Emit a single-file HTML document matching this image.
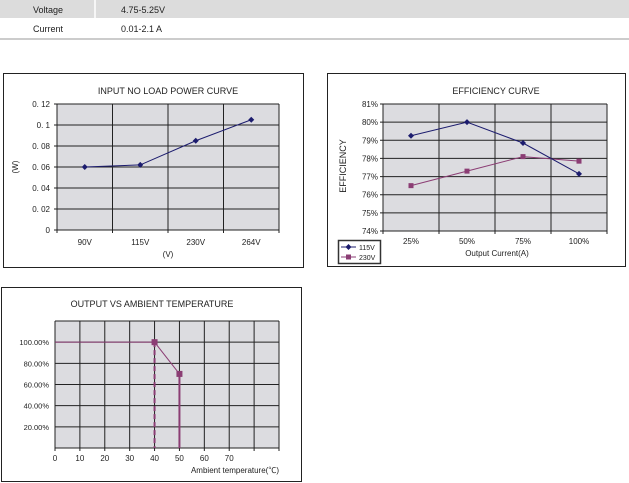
<!DOCTYPE html>
<html><head><meta charset="utf-8"><style>
body{margin:0;width:629px;height:483px;background:#fff;overflow:hidden;font-family:"Liberation Sans",sans-serif}
svg{position:absolute;left:0;top:0}
text{font-family:"Liberation Sans","Noto Sans CJK SC",sans-serif;fill:#222}
</style></head><body>
<svg width="629" height="483">
<g>
<rect x="0" y="0" width="629" height="18" fill="#dcdcdc"/>
<line x1="95" y1="0" x2="95" y2="18" stroke="#fff" stroke-width="1.5"/>
<text x="33" y="13" font-size="9">Voltage</text>
<text x="121" y="13" font-size="9">4.75-5.25V</text>
<text x="33" y="32" font-size="9">Current</text>
<text x="121" y="32" font-size="9">0.01-2.1 A</text>
<line x1="0" y1="39" x2="629" y2="39" stroke="#999" stroke-width="1"/>
</g>
<g id="c1"></g>
<g id="c2"></g>
<g id="c3"></g>
</svg>
<script>
const NS="http://www.w3.org/2000/svg";
function mk(p,t,a,txt){const e=document.createElementNS(NS,t);for(const k in a)e.setAttribute(k,a[k]);if(txt!==undefined)e.textContent=txt;p.appendChild(e);return e;}
const GRID="#222",BG="#dcdce0";

// Chart 1 data
const c1Cats=["90V","115V","230V","264V"];
const c1Vals=[0.06,0.062,0.085,0.105];
const c1Ticks=[0,0.02,0.04,0.06,0.08,0.1,0.12];
const c1TickLabels=["0","0. 02","0. 04","0. 06","0. 08","0. 1","0. 12"];
// Chart 2 data
const c2Cats=["25%","50%","75%","100%"];
const c2S115=[79.25,80,78.85,77.15];
const c2S230=[76.5,77.3,78.1,77.85];
const c2Ticks=[74,75,76,77,78,79,80,81];
// Chart 3 data
const c3X=[0,40,50,50];
const c3Y=[100,100,70,0];
const c3XTicks=[0,10,20,30,40,50,60,70];
const c3YTicks=[20,40,60,80,100];
const c3DashX=40;

(function(){
 const g=document.getElementById('c1');
 const L=57,R=279,T=104,B=230,min=0,max=0.12;
 const y=v=>B-(v-min)/(max-min)*(B-T);
 const bw=(R-L)/c1Cats.length;const x=i=>L+bw*(i+0.5);
 const fr=mk(g,'rect',{x:3.5,y:73.5,width:300,height:194,fill:'#fff',stroke:'#222'});
 
 mk(g,'rect',{x:L,y:T,width:R-L,height:B-T,fill:BG});
 c1Ticks.forEach((v,i)=>{mk(g,'line',{x1:L-3,y1:y(v),x2:R,y2:y(v),stroke:GRID,'stroke-width':1});
  const t=mk(g,'text',{x:L-7,y:y(v)+3,'font-size':8,'text-anchor':'end'},c1TickLabels[i]);
  });
 for(let i=0;i<=c1Cats.length;i++)mk(g,'line',{x1:L+bw*i,y1:T,x2:L+bw*i,y2:B+3,stroke:GRID,'stroke-width':1});
 c1Cats.forEach((c,i)=>{const t=mk(g,'text',{x:x(i),y:245,'font-size':8,'text-anchor':'middle'},c);
  });
 let t=mk(g,'text',{x:168,y:94,'font-size':9,'text-anchor':'middle'},'INPUT  NO  LOAD  POWER CURVE');
 
 t=mk(g,'text',{x:168,y:257,'font-size':8,'text-anchor':'middle'},'(V)');
 
 t=mk(g,'text',{x:18,y:167,'font-size':8,'text-anchor':'middle',transform:'rotate(-90 18 167)'},'(W)');
 
 const pl=mk(g,'polyline',{points:c1Vals.map((v,i)=>x(i)+','+y(v)).join(' '),fill:'none',stroke:'#1c1c6e','stroke-width':1});
 
 c1Vals.forEach((v,i)=>{const p=mk(g,'path',{d:`M${x(i)},${y(v)-3}l3,3l-3,3l-3,-3z`,fill:'#1c1c6e'});
  });
})();

(function(){
 const g=document.getElementById('c2');
 const L=383,R=607,T=104,B=231,min=74,max=81;
 const y=v=>B-(v-min)/(max-min)*(B-T);
 const bw=(R-L)/c2Cats.length;const x=i=>L+bw*(i+0.5);
 const fr=mk(g,'rect',{x:327.5,y:73.5,width:298,height:193,fill:'#fff',stroke:'#222'});
 
 mk(g,'rect',{x:L,y:T,width:R-L,height:B-T,fill:BG});
 c2Ticks.forEach(v=>{mk(g,'line',{x1:L-3,y1:y(v),x2:R,y2:y(v),stroke:GRID,'stroke-width':1});
  const t=mk(g,'text',{x:L-5,y:y(v)+3,'font-size':8,'text-anchor':'end'},v+'%');
  });
 for(let i=0;i<=c2Cats.length;i++)mk(g,'line',{x1:L+bw*i,y1:T,x2:L+bw*i,y2:B+3,stroke:GRID,'stroke-width':1});
 c2Cats.forEach((c,i)=>{const t=mk(g,'text',{x:x(i),y:244,'font-size':8,'text-anchor':'middle'},c);
  });
 let t=mk(g,'text',{x:496,y:94,'font-size':9,'text-anchor':'middle'},'EFFICIENCY  CURVE');
 
 t=mk(g,'text',{x:497,y:256,'font-size':8,'text-anchor':'middle'},'Output Current(A)');
 
 t=mk(g,'text',{x:346,y:166,'font-size':9,'text-anchor':'middle',transform:'rotate(-90 346 166)'},'EFFICIENCY');
 
 const c230='#8b3d74',c115='#1c1c6e';
 let pl=mk(g,'polyline',{points:c2S230.map((v,i)=>x(i)+','+y(v)).join(' '),fill:'none',stroke:c230,'stroke-width':1});
 
 pl=mk(g,'polyline',{points:c2S115.map((v,i)=>x(i)+','+y(v)).join(' '),fill:'none',stroke:c115,'stroke-width':1});
 
 c2S230.forEach((v,i)=>{const p=mk(g,'rect',{x:x(i)-2.5,y:y(v)-2.5,width:5,height:5,fill:c230});
  });
 c2S115.forEach((v,i)=>{const p=mk(g,'path',{d:`M${x(i)},${y(v)-3}l3,3l-3,3l-3,-3z`,fill:c115});
  });
 const lg=mk(g,'g',{});
 mk(lg,'rect',{x:338.5,y:240.5,width:42,height:23,fill:'#fff',stroke:'#333','stroke-width':1.5});
 mk(lg,'line',{x1:341,y1:247,x2:356,y2:247,stroke:c115});
 mk(lg,'path',{d:'M348.5,244l3,3l-3,3l-3,-3z',fill:c115});
 t=mk(lg,'text',{x:359,y:250,'font-size':7},'115V');
 mk(lg,'line',{x1:341,y1:257,x2:356,y2:257,stroke:c230});
 mk(lg,'rect',{x:346,y:254.5,width:5,height:5,fill:c230});
 t=mk(lg,'text',{x:359,y:260,'font-size':7},'230V');
})();

(function(){
 const g=document.getElementById('c3');
 const L=55,R=279,T=321,B=448,xmax=90,ymax=120;
 const x=v=>L+v/xmax*(R-L),y=v=>B-v/ymax*(B-T);
 const fr=mk(g,'rect',{x:1.5,y:287.5,width:300,height:194,fill:'#fff',stroke:'#222'});
 
 mk(g,'rect',{x:L,y:T,width:R-L,height:B-T,fill:BG});
 for(let v=0;v<=ymax;v+=20)mk(g,'line',{x1:L,y1:y(v),x2:R,y2:y(v),stroke:GRID,'stroke-width':1});
 for(let v=0;v<=xmax;v+=10)mk(g,'line',{x1:x(v),y1:T,x2:x(v),y2:B+3,stroke:GRID,'stroke-width':1});
 c3YTicks.forEach(v=>{const t=mk(g,'text',{x:L-6,y:y(v)+3,'font-size':7.5,'text-anchor':'end'},v.toFixed(2)+'%');
  });
 c3XTicks.forEach(v=>{const t=mk(g,'text',{x:x(v),y:461,'font-size':8,'text-anchor':'middle'},String(v));
  });
 let t=mk(g,'text',{x:152,y:307,'font-size':9,'text-anchor':'middle'},'OUTPUT VS AMBIENT TEMPERATURE');
 
 t=mk(g,'text',{x:279,y:473,'font-size':8,'text-anchor':'end'},'Ambient temperature(℃)');
 
 const col='#8b3d74';
 const dl=mk(g,'line',{x1:x(c3DashX),y1:y(100),x2:x(c3DashX),y2:B,stroke:col,'stroke-width':2,'stroke-dasharray':'5,3'});
 
 const pl=mk(g,'polyline',{points:c3X.map((v,i)=>x(v)+','+y(c3Y[i])).join(' '),fill:'none',stroke:col,'stroke-width':1});
 
 mk(g,'line',{x1:x(50),y1:y(70),x2:x(50),y2:B,stroke:col,'stroke-width':2});
 [1,2].forEach(i=>{const p=mk(g,'rect',{x:x(c3X[i])-3,y:y(c3Y[i])-3,width:6,height:6,fill:col});
  });
})();
</script>
</body></html>
